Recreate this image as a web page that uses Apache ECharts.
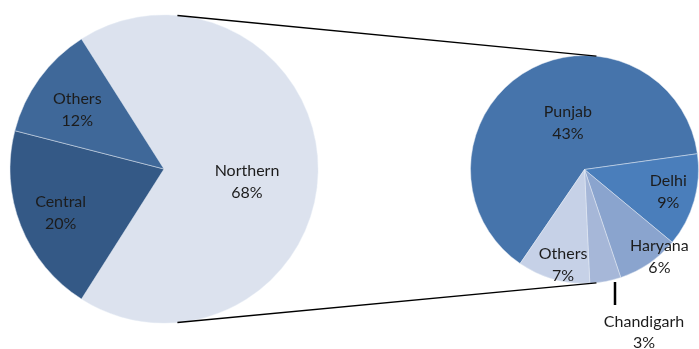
<!DOCTYPE html>
<html><head><meta charset="utf-8">
<script src="https://cdn.jsdelivr.net/npm/echarts@6/dist/echarts.min.js"></script>
<style>html,body{margin:0;padding:0;background:#fff}#c{width:699px;height:349px}</style>
</head><body><div id="c"></div>
<script>
// Data
const regionNames = ['Northern', 'Central', 'Others'];
const regionValues = [68, 20, 12];
const northNames = ['Punjab', 'Delhi', 'Haryana', 'Chandigarh', 'Others'];
const northValues = [43, 9, 6, 3, 7];

// Styles
const regionColors = ['#DCE2EE', '#345986', '#3F6899'];
const northColors = ['#4674AB', '#4A7EBB', '#8AA4CE', '#A6B7D8', '#C6D1E7'];
const FONT = 'Lato, "Noto Sans", sans-serif';
const L = {cx: 164, cy: 169, r: 154};
const R = {cx: 584.5, cy: 169.5, r: 114};
const leftShift = [[3, 13], [-29, 14], [-22, -12]];
const rightShift = [[15, 4], [26, 6], [41, 38], null, [-5, 38]];

const chart = echarts.init(document.getElementById('c'), null, {renderer: 'canvas'});
const labelBase = {
  show: true, position: 'inside', formatter: '{b}\n{c}%',
  color: '#1c1c1c', fontFamily: FONT, fontSize: 16, lineHeight: 22
};
function pt(c, deg) {
  const a = deg * Math.PI / 180;
  return [c.cx + c.r * Math.cos(a), c.cy - c.r * Math.sin(a)];
}
const p1 = pt(L, 85), p2 = pt(R, 84), p3 = pt(L, -85), p4 = pt(R, -84);

chart.setOption({
  animation: false,
  graphic: [
    {type: 'line', shape: {x1: p1[0], y1: p1[1], x2: p2[0], y2: p2[1]}, style: {stroke: '#000', lineWidth: 1.5}, z: 10},
    {type: 'line', shape: {x1: p3[0], y1: p3[1], x2: p4[0], y2: p4[1]}, style: {stroke: '#000', lineWidth: 1.5}, z: 10}
  ],
  series: [
    {
      type: 'pie', center: [L.cx, L.cy], radius: L.r, startAngle: 122.4, clockwise: true,
      avoidLabelOverlap: false, silent: true,
      itemStyle: {borderColor: 'rgba(230,236,245,0.8)', borderWidth: 0.6},
      label: labelBase, labelLine: {show: false},
      labelLayout: p => ({dx: leftShift[p.dataIndex][0], dy: leftShift[p.dataIndex][1]}),
      data: regionNames.map((n, i) => ({name: n, value: regionValues[i], itemStyle: {color: regionColors[i]}}))
    },
    {
      type: 'pie', center: [R.cx, R.cy], radius: R.r, startAngle: 235.6, clockwise: true,
      avoidLabelOverlap: false, silent: true,
      itemStyle: {borderColor: 'rgba(230,236,245,0.8)', borderWidth: 0.6},
      label: labelBase, labelLine: {show: false},
      labelLayout: p => {
        const s = rightShift[p.dataIndex];
        if (s) return {dx: s[0], dy: s[1]};
        const x0 = R.cx + 30.5, y0 = R.cy + R.r - 1.5;
        return {
          x: R.cx + 59.5, y: R.cy + 162.5, align: 'center', verticalAlign: 'middle',
          labelLinePoints: [[x0, y0], [x0, y0 + 23], [x0, y0 + 23]]
        };
      },
      data: northNames.map((n, i) => {
        const d = {name: n, value: northValues[i], itemStyle: {color: northColors[i]}};
        if (n === 'Chandigarh') {
          d.label = {position: 'outside', align: 'center', lineHeight: 21};
          d.labelLine = {show: true, length: 20, length2: 0, lineStyle: {color: '#000', width: 2.5}};
        }
        return d;
      })
    }
  ]
});
</script>
</body></html>
